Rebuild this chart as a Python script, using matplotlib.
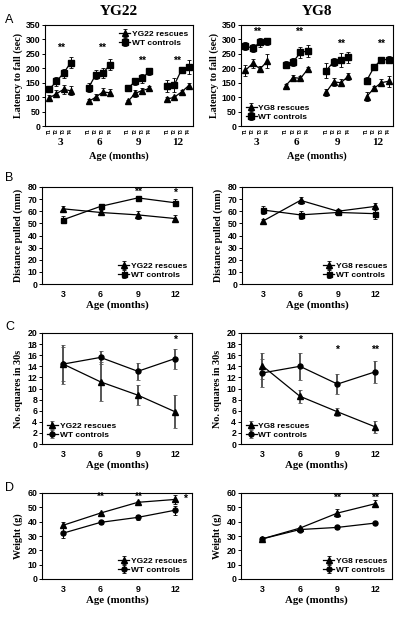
import matplotlib.pyplot as plt
import numpy as np

# ---- data ----
ages = [3, 6, 9, 12]
trials = ['T1', 'T2', 'T3', 'T4']

# A: latency to fall (sec), 4 trials per age
a22_res = [[97, 112, 127, 122], [85, 100, 118, 115], [85, 113, 123, 130], [93, 100, 118, 140]]
a22_res_err = [[10, 12, 15, 15], [10, 10, 12, 12], [5, 12, 10, 10], [8, 5, 8, 8]]
a22_wt = [[127, 155, 183, 220], [133, 178, 183, 213], [130, 155, 165, 190], [138, 143, 195, 205]]
a22_wt_err = [[10, 15, 15, 18], [15, 15, 18, 20], [8, 12, 15, 12], [20, 25, 8, 25]]
a22_sig = ['**', '**', '**', '**']
a22_sig_y = [270, 270, 225, 225]

a8_res = [[193, 217, 198, 225], [140, 168, 165, 197], [117, 153, 150, 172], [102, 130, 150, 155]]
a8_res_err = [[20, 15, 10, 25], [5, 10, 10, 8], [12, 15, 12, 12], [15, 10, 12, 20]]
a8_wt = [[277, 270, 290, 293], [213, 222, 255, 260], [192, 222, 228, 238], [157, 203, 230, 230]]
a8_wt_err = [[15, 15, 15, 12], [12, 15, 18, 20], [25, 15, 25, 20], [12, 10, 10, 12]]
a8_sig = ['**', '**', '**', '**']
a8_sig_y = [325, 325, 286, 286]

# B: distance pulled (mm)
b22_res = [62, 59, 57, 54]
b22_res_err = [2, 2, 3, 3]
b22_wt = [53, 64, 71, 67]
b22_wt_err = [3, 2, 1, 3]
b22_sig = ['', '', '**', '*']
b22_sig_y = [0, 0, 76, 75]

b8_res = [52, 69, 60, 64]
b8_res_err = [2, 3, 2, 3]
b8_wt = [61, 57, 59, 58]
b8_wt_err = [3, 3, 2, 4]

# C: no. squares in 30 s
c22_res = [14.4, 11.2, 8.8, 5.8]
c22_res_err = [3.1, 3.5, 1.8, 3.0]
c22_wt = [14.4, 15.6, 13.1, 15.4]
c22_wt_err = [3.5, 1.2, 1.5, 1.8]
c22_sig = ['', '', '', '*']
c22_sig_y = [0, 0, 0, 18.8]

c8_res = [14.1, 8.6, 5.8, 3.1]
c8_res_err = [2.3, 1.2, 0.7, 1.1]
c8_wt = [12.8, 14.0, 10.8, 13.0]
c8_wt_err = [2.5, 2.4, 1.8, 2.0]
c8_sig = ['', '*', '*', '**']
c8_sig_y = [0, 18.7, 17.0, 17.0]

# D: weight (g)
d22_res = [37.5, 46, 53.5, 55.5]
d22_res_err = [2, 1, 1, 3]
d22_wt = [32, 39.5, 43, 48]
d22_wt_err = [3.5, 1, 1.5, 3]
d22_sig = ['', '**', '**', '']
d22_sig_y = [0, 57.5, 57.5, 0]

d8_res = [28, 35.5, 46, 52.5]
d8_res_err = [1, 1, 3, 2.5]
d8_wt = [28, 34.5, 36, 39]
d8_wt_err = [1, 1, 0.8, 0.8]
d8_sig = ['', '', '**', '**']
d8_sig_y = [0, 0, 56.5, 56.5]

SANS = 'Liberation Sans'
SERIF = 'Liberation Serif'
W, H = 400, 617


def box(l, t, r, b):
    return [l / W, 1 - b / H, (r - l) / W, (b - t) / H]


def style(ax):
    for s in ax.spines.values():
        s.set_linewidth(0.8)
    ax.tick_params(direction='out', length=2, width=0.7, pad=1.5, labelsize=6.3)
    for lab in ax.get_yticklabels() + ax.get_xticklabels():
        lab.set_fontfamily(SANS)
        lab.set_fontweight('bold')


def series(ax, x, y, err, marker, ms, label, elw=0.7, ecol='black'):
    return ax.errorbar(x, y, yerr=err, color='black', marker=marker, ms=ms, lw=0.9,
                       elinewidth=elw, ecolor=ecol, capsize=1.2, capthick=0.6, label=label)


def legend(ax, loc, bbox):
    ax.legend(loc=loc, bbox_to_anchor=bbox, frameon=False, handlelength=1.3, handletextpad=0.2,
              labelspacing=0.15, borderaxespad=0.2, prop={'family': SANS, 'weight': 'bold', 'size': 6})


def sig_text(ax, x, y, s):
    ax.text(x, y, s, ha='center', va='center', fontsize=7.5, fontweight='bold', family=SANS)


def panel_a(ax, res, res_err, wt, wt_err, sig, sig_y, sig_dx, name, loc, bbox):
    xs = []
    for g in range(4):
        x = [g * 5.5 + i for i in range(4)]
        xs += x
        series(ax, x, res[g], res_err[g], '^', 4.5, name + ' rescues' if g == 0 else None)
        series(ax, x, wt[g], wt_err[g], 's', 4, 'WT controls' if g == 0 else None)
        sig_text(ax, g * 5.5 + sig_dx[g], sig_y[g], sig[g])
        ax.annotate(str(ages[g]), (g * 5.5 + 1.5, 0), xycoords=('data', 'axes fraction'),
                    xytext=(0, -8.5), textcoords='offset points',
                    ha='center', va='top', fontsize=8, fontweight='bold', family=SERIF)
    ax.set_xticks(xs)
    ax.set_xticklabels(trials * 4, rotation=90)
    ax.set_xlim(-0.6, 20.1)
    ax.set_ylim(0, 350)
    ax.set_yticks(np.arange(0, 351, 50))
    style(ax)
    ax.tick_params(axis='x', labelsize=3.5, length=0)
    ax.set_xlabel('Age (months)', family=SERIF, fontweight='bold', fontsize=7.5, labelpad=13)
    ax.set_ylabel('Latency to fall (sec)', family=SERIF, fontweight='bold', fontsize=7.3, labelpad=2)
    ax.set_title(name, family=SERIF, fontweight='bold', fontsize=11, pad=7)
    legend(ax, loc, bbox)


def panel(ax, res, res_err, wt, wt_err, sig, sig_y, sig_x, name, ymax, ystep, ylabel, loc, bbox,
          wt_marker='s', elw=0.7, ecol='black'):
    series(ax, ages, res, res_err, '^', 4.5, name + ' rescues', elw, ecol)
    series(ax, ages, wt, wt_err, wt_marker, 3.6, 'WT controls', elw, ecol)
    for x, s, y in zip(sig_x, sig, sig_y):
        if s:
            sig_text(ax, x, y, s)
    ax.set_xticks(ages)
    ax.set_xlim(1.3, 13.35)
    ax.set_ylim(0, ymax)
    ax.set_yticks(np.arange(0, ymax + 1, ystep))
    style(ax)
    ax.tick_params(axis='x', length=0, pad=4)
    ax.set_xlabel('Age (months)', family=SERIF, fontweight='bold', fontsize=7.8, labelpad=1)
    ax.set_ylabel(ylabel, family=SERIF, fontweight='bold', fontsize=7.3, labelpad=3)
    legend(ax, loc, bbox)


fig = plt.figure(figsize=(4, 6.17), dpi=100)

ax = fig.add_axes(box(45, 25, 193, 126))
panel_a(ax, a22_res, a22_res_err, a22_wt, a22_wt_err, a22_sig, a22_sig_y, [1.6, 1.9, 2.0, 1.3],
        'YG22', 'upper right', (1.0, 1.0))
ax = fig.add_axes(box(241, 25, 393, 126))
panel_a(ax, a8_res, a8_res_err, a8_wt, a8_wt_err, a8_sig, a8_sig_y, [1.6, 1.8, 2.0, 2.0],
        'YG8', 'lower left', (0.0, 0.0))

ax = fig.add_axes(box(42, 187, 192, 284))
panel(ax, b22_res, b22_res_err, b22_wt, b22_wt_err, b22_sig, b22_sig_y, ages, 'YG22', 80, 10,
      'Distance pulled (mm)', 'lower right', (1.0, 0.0))
ax = fig.add_axes(box(242, 187, 392, 284))
panel(ax, b8_res, b8_res_err, b8_wt, b8_wt_err, [''] * 4, [0] * 4, ages, 'YG8', 80, 10,
      'Distance pulled (mm)', 'lower right', (1.0, 0.0))

ax = fig.add_axes(box(42, 333, 192, 444))
panel(ax, c22_res, c22_res_err, c22_wt, c22_wt_err, c22_sig, c22_sig_y, ages, 'YG22', 20, 2,
      'No. squares in 30s', 'lower left', (0.0, 0.0), 'o', 1.4, '#555555')
ax = fig.add_axes(box(241, 333, 392, 444))
panel(ax, c8_res, c8_res_err, c8_wt, c8_wt_err, c8_sig, c8_sig_y, ages, 'YG8', 20, 2,
      'No. squares in 30s', 'lower left', (0.0, 0.0), 'o', 1.4, '#555555')

ax = fig.add_axes(box(42, 493, 192, 579))
panel(ax, d22_res, d22_res_err, d22_wt, d22_wt_err, d22_sig + ['*'], d22_sig_y + [56],
      ages + [12.8], 'YG22', 60, 10, 'Weight (g)', 'lower right', (1.0, 0.0), 'o')
ax = fig.add_axes(box(241, 493, 392, 579))
panel(ax, d8_res, d8_res_err, d8_wt, d8_wt_err, d8_sig, d8_sig_y, ages, 'YG8', 60, 10,
      'Weight (g)', 'lower right', (1.0, 0.0), 'o')

for letter, y in zip('ABCD', [20, 178, 327, 488]):
    fig.text(5 / W, 1 - y / H, letter, family=SANS, fontsize=9, va='center', ha='left')

fig.savefig('out.png', dpi=100)
